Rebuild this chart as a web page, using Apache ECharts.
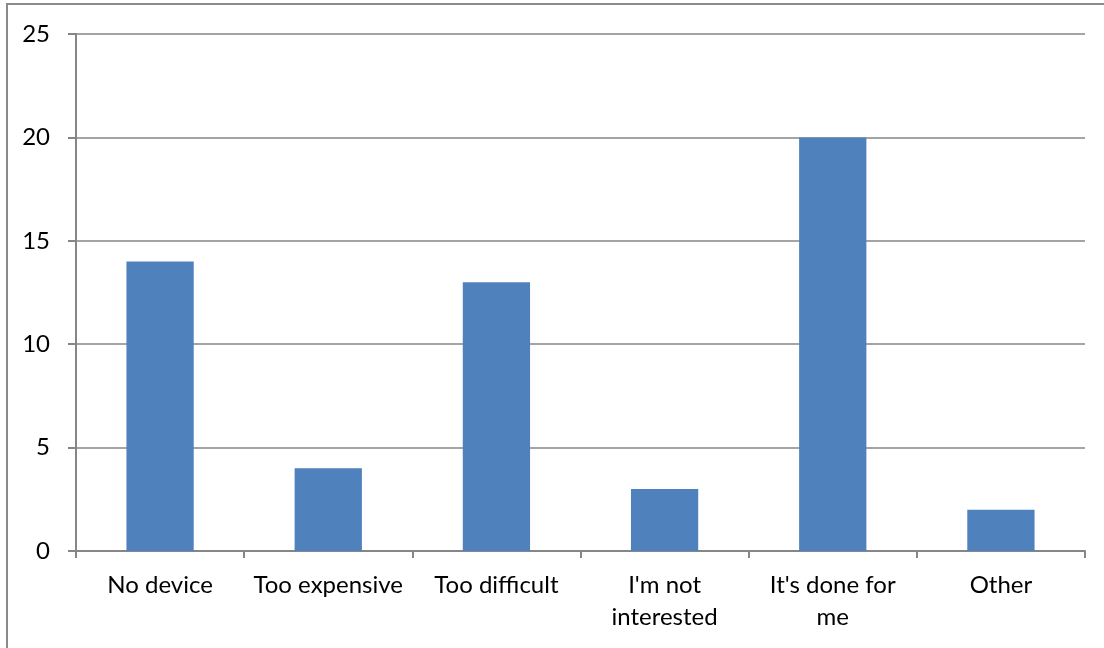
<!DOCTYPE html>
<html>
<head>
<meta charset="utf-8">
<script src="https://cdn.jsdelivr.net/npm/echarts@6/dist/echarts.min.js"></script>
<style>
html,body{margin:0;padding:0;background:#fff;}
#chart{width:1104px;height:648px;}
</style>
</head>
<body>
<div id="chart"></div>
<script>
const categories = ['No device', 'Too expensive', 'Too difficult', "I'm not\ninterested", "It's done for\nme", 'Other'];
const values = [14, 4, 13, 3, 20, 2];
const yTicks = [0, 5, 10, 15, 20, 25];

const chart = echarts.init(document.getElementById('chart'));
const font = 'Lato, "Open Sans", sans-serif';
chart.setOption({
  animation: false,
  backgroundColor: '#fff',
  graphic: [{
    type: 'rect',
    shape: { x: 7, y: 4, width: 1200, height: 800 },
    style: { fill: 'none', stroke: '#8a8a8a', lineWidth: 2 },
    silent: true
  }],
  grid: { left: 76, right: 19, top: 34, bottom: 97 },
  xAxis: {
    type: 'category',
    data: categories,
    axisLine: { lineStyle: { color: '#868686', width: 2 } },
    axisTick: { show: true, length: 7, lineStyle: { color: '#868686', width: 2 } },
    axisLabel: { color: '#000', fontSize: 24, fontFamily: font, margin: 18, lineHeight: 32, interval: 0 }
  },
  yAxis: {
    type: 'value',
    min: yTicks[0],
    max: yTicks[yTicks.length - 1],
    interval: 5,
    axisLine: { show: true, lineStyle: { color: '#868686', width: 2 } },
    axisTick: { show: true, length: 8, lineStyle: { color: '#868686', width: 2 } },
    splitLine: { show: true, lineStyle: { color: '#868686', width: 1.5 } },
    axisLabel: { color: '#000', fontSize: 24, fontFamily: font, margin: 26 }
  },
  series: [{
    type: 'bar',
    data: values,
    barWidth: '40%',
    itemStyle: { color: '#4F81BD' }
  }]
});
</script>
</body>
</html>
